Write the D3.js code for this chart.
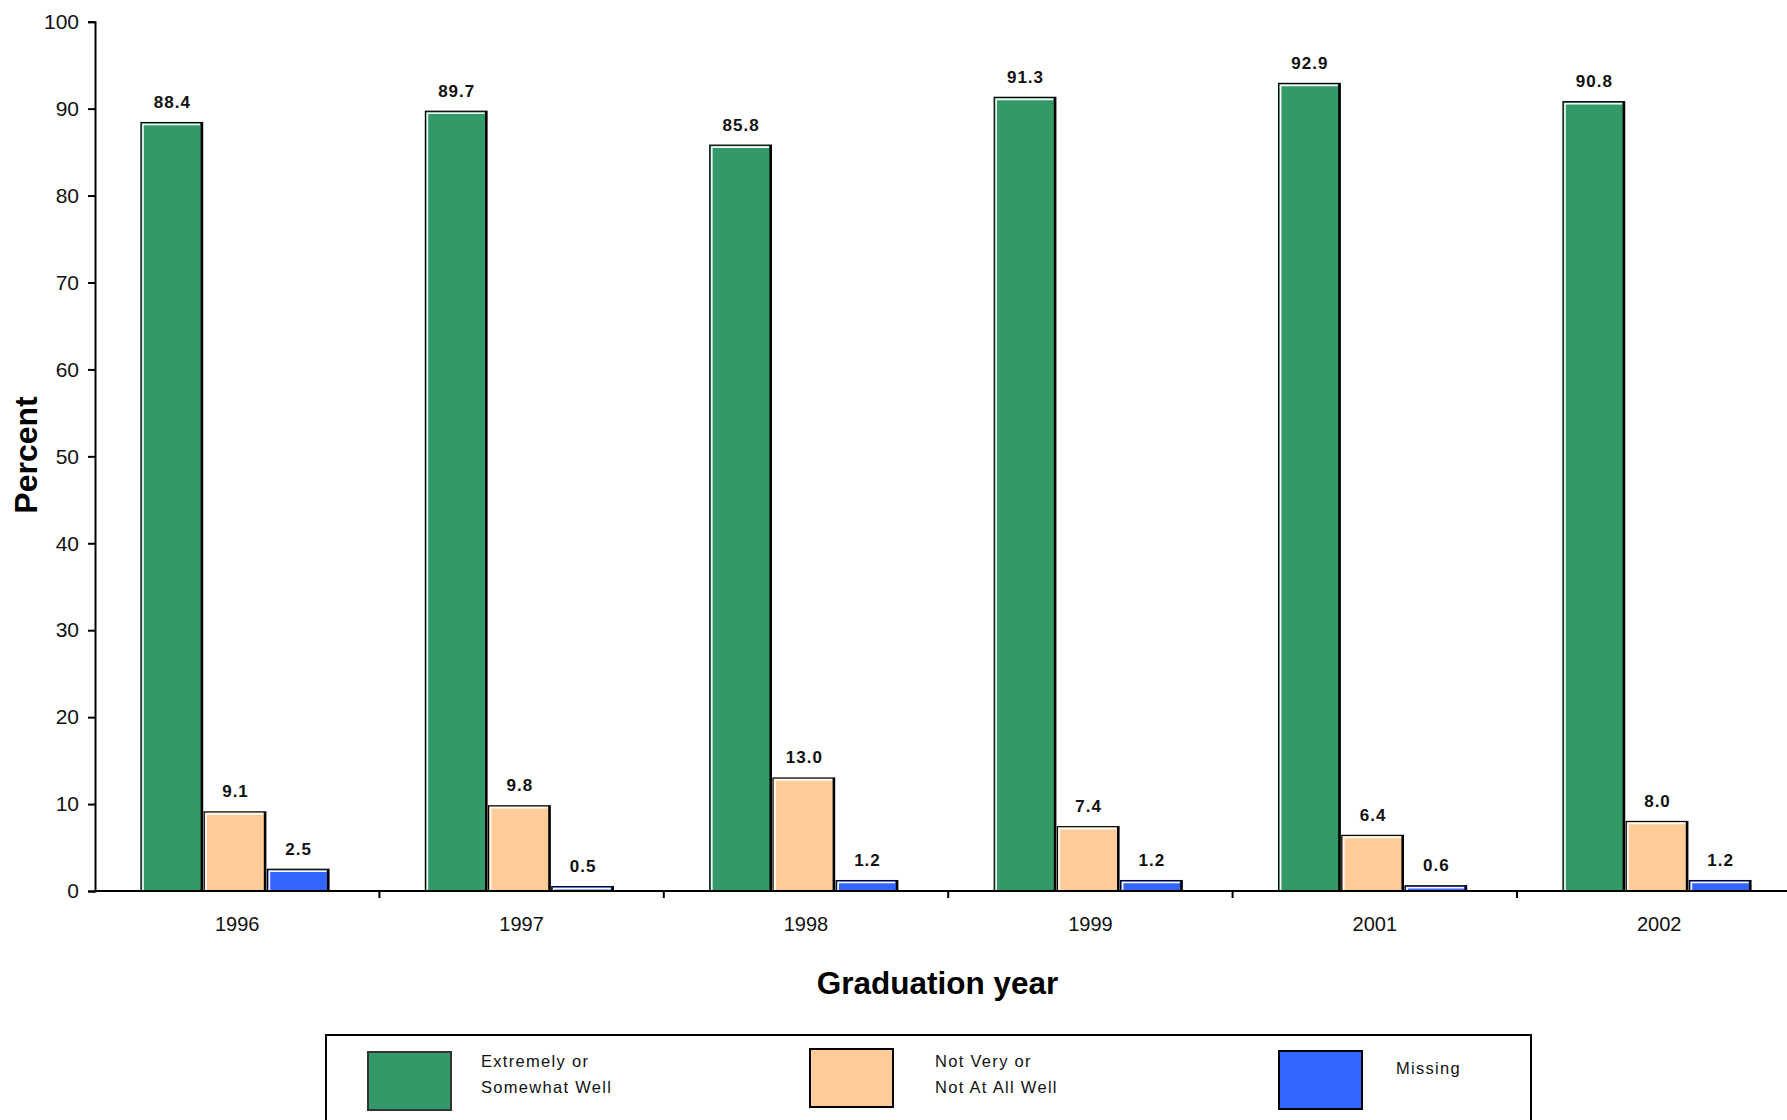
<!DOCTYPE html>
<html>
<head>
<meta charset="utf-8">
<script src="https://cdn.jsdelivr.net/npm/d3@7"></script>
<style>
  html, body { margin: 0; padding: 0; background: #fff; overflow: hidden; }
  svg { display: block; font-family: "Liberation Sans", Arial, sans-serif; }
</style>
</head>
<body>
<svg id="chart" width="1787" height="1120"></svg>
<script>
const years = ["1996", "1997", "1998", "1999", "2001", "2002"];
const seriesNames = ["Extremely or Somewhat Well", "Not Very or Not At All Well", "Missing"];
const legendLines = [["Extremely or", "Somewhat Well"], ["Not Very or", "Not At All Well"], ["Missing"]];
const wellValues = [88.4, 89.7, 85.8, 91.3, 92.9, 90.8];
const notWellValues = [9.1, 9.8, 13.0, 7.4, 6.4, 8.0];
const missingValues = [2.5, 0.5, 1.2, 1.2, 0.6, 1.2];
const seriesColors = ["#339966", "#FFCC99", "#3366FF"];
const yTicks = [0, 10, 20, 30, 40, 50, 60, 70, 80, 90, 100];

const allSeries = [wellValues, notWellValues, missingValues];
const svg = d3.select("#chart");

const x0 = 95, bandW = 284.4;
const x = d3.scaleBand().domain(years).range([x0, x0 + bandW * years.length]).padding(0);
const xs = d3.scaleBand().domain(seriesNames).range([46, 46 + 188]).paddingInner(0.025);
const y = d3.scaleLinear().domain([0, 100]).range([891, 21.7]);

// Y axis
const yAxis = svg.append("g").attr("transform", `translate(${x0},0)`)
  .call(d3.axisLeft(y).tickValues(yTicks).tickSize(7).tickPadding(9).tickFormat(d3.format("d")));
yAxis.select(".domain").attr("stroke", "#000").attr("stroke-width", 2);
yAxis.selectAll(".tick line").attr("stroke", "#000").attr("stroke-width", 2);
yAxis.selectAll(".tick text").attr("font-size", 21).attr("fill", "#111")
  .attr("font-family", "'Liberation Sans', Arial, sans-serif");

// Bars
const groups = svg.append("g").selectAll("g.grp").data(years).join("g")
  .attr("transform", d => `translate(${x(d)},0)`);

years.forEach((yr, i) => {
  const g = groups.filter(d => d === yr);
  allSeries.forEach((vals, s) => {
    const v = vals[i];
    const bx = xs(seriesNames[s]);
    const bw = xs.bandwidth();
    const top = y(v), bot = y(0);
    const h = bot - top;
    g.append("rect").attr("x", bx).attr("y", top).attr("width", bw).attr("height", h)
      .attr("fill", seriesColors[s]).attr("stroke", "#000").attr("stroke-width", 1.2);
    if (h > 3) {
      g.append("path")
        .attr("d", `M${bx + 2},${bot} L${bx + 2},${top + 2} L${bx + bw - 2.5},${top + 2}`)
        .attr("fill", "none").attr("stroke", "#fff").attr("stroke-width", 1.6);
      g.append("line").attr("x1", bx + bw - 1).attr("x2", bx + bw - 1)
        .attr("y1", top).attr("y2", bot).attr("stroke", "#000").attr("stroke-width", 2);
    }
    g.append("text").attr("x", bx + bw / 2 + 0.5).attr("y", top - 14.5)
      .attr("text-anchor", "middle").attr("font-size", 17).attr("font-weight", "bold")
      .attr("letter-spacing", "1px").attr("fill", "#111")
      .text(d3.format(".1f")(v));
  });
});

// X axis
const xAxisG = svg.append("g");
xAxisG.append("line").attr("x1", x0).attr("x2", 1787).attr("y1", y(0)).attr("y2", y(0))
  .attr("stroke", "#000").attr("stroke-width", 2.2);
xAxisG.selectAll("line.tk").data(years.slice(1)).join("line").attr("class", "tk")
  .attr("x1", d => x(d)).attr("x2", d => x(d)).attr("y1", y(0)).attr("y2", y(0) + 7)
  .attr("stroke", "#000").attr("stroke-width", 2);
xAxisG.selectAll("text").data(years).join("text")
  .attr("x", d => x(d) + x.bandwidth() / 2).attr("y", 931)
  .attr("text-anchor", "middle").attr("font-size", 20).attr("fill", "#111").text(d => d);

// Axis titles
svg.append("text").attr("transform", "translate(37,455) rotate(-90)")
  .attr("text-anchor", "middle").attr("font-size", 32).attr("font-weight", "bold")
  .attr("fill", "#000").text("Percent");
svg.append("text").attr("x", 937.5).attr("y", 994)
  .attr("text-anchor", "middle").attr("font-size", 31.5).attr("font-weight", "bold")
  .attr("fill", "#000").text("Graduation year");

// Legend
const lg = svg.append("g");
lg.append("rect").attr("x", 326).attr("y", 1035).attr("width", 1205).attr("height", 200)
  .attr("fill", "none").attr("stroke", "#000").attr("stroke-width", 2);
const swX = [368, 810, 1279];
const swY = [1052, 1049, 1051];
const txX = [481, 935, 1396];
seriesNames.forEach((name, s) => {
  lg.append("rect").attr("x", swX[s]).attr("y", swY[s]).attr("width", 83).attr("height", 58)
    .attr("fill", seriesColors[s]).attr("stroke", s === 0 ? "#333" : "#000").attr("stroke-width", 2);
  const lines = legendLines[s];
  const base = lines.length === 1 ? 1074 : 1067;
  lines.forEach((ln, k) => {
    lg.append("text").attr("x", txX[s]).attr("y", base + k * 26)
      .attr("font-size", 16.5).attr("letter-spacing", "1.3px").attr("fill", "#111").text(ln);
  });
});
</script>
</body>
</html>
